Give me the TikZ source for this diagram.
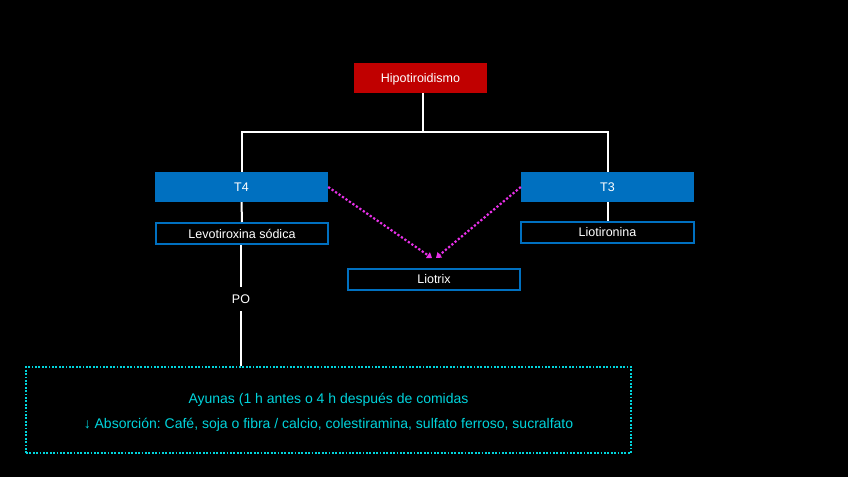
\documentclass[tikz,border=0pt]{standalone}
\usepackage{fontspec}
\setmainfont{Liberation Sans}
\usetikzlibrary{arrows.meta}
\definecolor{hred}{HTML}{C00000}
\definecolor{hblue}{HTML}{0070C0}
\definecolor{hmag}{HTML}{E830E8}
\definecolor{hcyan}{HTML}{00D4DC}
\frenchspacing
\tikzset{
  lbl/.style={font=\fontsize{12.5}{14}\selectfont, text height=9.2pt, text depth=0pt},
  filledbox/.style={lbl, draw=none, fill=#1, text=white, minimum width=173pt, minimum height=30pt, inner sep=0pt},
  outlinebox/.style={lbl, draw=hblue, line width=2pt, fill=black, text=white, minimum width=172pt, minimum height=21pt, inner sep=0pt},
  wline/.style={draw=white, line width=2pt},
  magarrow/.style={draw=hmag, line width=2.2pt, dotted, -{Triangle[length=5pt,width=7pt]}},
  notetext/.style={text=hcyan, font=\fontsize{14}{16}\selectfont, inner sep=0pt},
}
\begin{document}
\begin{tikzpicture}[x=1pt,y=-1pt]
\fill[black] (0,0) rectangle (848,477);
\useasboundingbox (0,0) rectangle (848,477);
\node[filledbox=hred, minimum width=133pt] (hip) at (420.5,78) {Hipotiroidismo};
\node[filledbox=hblue] (t4) at (241.5,187) {T4};
\node[filledbox=hblue] (t3) at (607.5,187) {T3};
\node[outlinebox] (levo) at (242,233.5) {Levotiroxina sódica};
\node[outlinebox, minimum width=173pt] (lioti) at (607.5,232) {Liotironina};
\node[outlinebox] (liotrix) at (434,279) {Liotrix};
\node[lbl, text=white, inner sep=2pt, minimum height=24pt] (po) at (241,299) {PO};
\node[draw=hcyan, line width=2.2pt, dash pattern=on 1.8pt off 1.6pt, minimum width=605pt, minimum height=86pt, inner sep=0pt] (note) at (328.5,410) {};
\node[notetext] (l1) at (328.5,400) {Ayunas (1 h antes o 4 h después de comidas};
\node[notetext] (l2) at (328.5,425) {↓ Absorción: Café, soja o fibra / calcio, colestiramina, sulfato ferroso, sucralfato};
\coordinate (bus) at (0,132);
\coordinate (lx) at (434,258);
\draw[wline] ([xshift=2.5pt]hip.south) -- ([xshift=2.5pt]hip.south |- bus);
\draw[wline] (t4.north) -- (t4.north |- bus) -- (t3.north |- bus) -- (t3.north);
\draw[wline] (t4.south) -- (levo.north);
\draw[wline] (t3.south) -- (lioti.north);
\draw[wline] (levo.south -| po) -- (po.north);
\draw[wline] (po.south) -- (note.north -| po);
\draw[magarrow] (t4.east) -- ([xshift=-2pt]lx);
\draw[magarrow] (t3.west) -- ([xshift=2pt]lx);
\end{tikzpicture}
\end{document}
